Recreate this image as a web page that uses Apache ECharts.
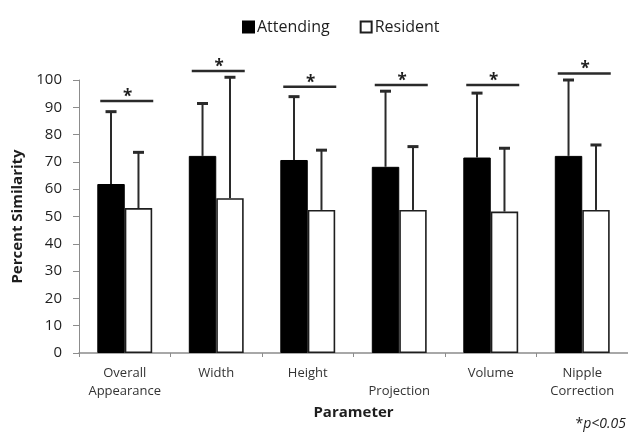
<!DOCTYPE html>
<html>
<head>
<meta charset="utf-8">
<script src="https://cdn.jsdelivr.net/npm/echarts@6/dist/echarts.min.js"></script>
<style>
  html, body { margin: 0; padding: 0; background: #fff; }
  #chart { width: 628px; height: 435px; }
</style>
</head>
<body>
<div id="chart"></div>
<script>
// Parameters compared between the two groups
const categories = ['Overall\nAppearance', 'Width', 'Height', '\nProjection', 'Volume', 'Nipple\nCorrection'];

// Mean percent similarity and standard deviation per group
const attendingMean = [61.9, 72.2, 70.7, 68.2, 71.6, 72.2];
const attendingSD   = [26.5, 19.2, 23.2, 27.7, 23.6, 27.8];
const residentMean  = [53.1, 56.7, 52.4, 52.4, 51.8, 52.4];
const residentSD    = [20.4, 44.3, 21.9, 23.2, 23.2, 23.8];

// Height of the significance bracket drawn over each pair
const sigLevel = [92.3, 103.3, 97.5, 98.2, 98.2, 102.4];

const yTicks = { min: 0, max: 100, interval: 10 };

const FONT = '"Open Sans", "DejaVu Sans", sans-serif';
const INK = '#1e1e1e';

// Upper error bar with a cap, centred on one bar of the pair
function errorBar(side) {
  return function (params, api) {
    const cat = api.value(0);
    const mean = api.value(1);
    const sd = api.value(2);
    const catW = api.size([1, 0])[0];
    const barW = catW * 0.3;
    const base = api.coord([cat, mean]);
    const top = api.coord([cat, mean + sd]);
    const x = base[0] + side * barW / 2;
    return {
      type: 'group',
      children: [
        { type: 'line', shape: { x1: x, y1: base[1], x2: x, y2: top[1] },
          style: { stroke: '#2a2a2a', lineWidth: 2 } },
        { type: 'line', shape: { x1: x - 5.5, y1: top[1], x2: x + 5.5, y2: top[1] },
          style: { stroke: '#2a2a2a', lineWidth: 3 } }
      ]
    };
  };
}

function sigBracket(params, api) {
  const p = api.coord([api.value(0), api.value(1)]);
  const cx = p[0] + 2;
  return {
    type: 'group',
    children: [
      { type: 'line', shape: { x1: cx - 26.5, y1: p[1], x2: cx + 26.5, y2: p[1] },
        style: { stroke: '#2a2a2a', lineWidth: 2.5 } },
      { type: 'text', x: cx + 1, y: p[1] - 4,
        style: { text: '*', fontFamily: FONT, fontWeight: 'bold', fontSize: 17,
                 fill: INK, align: 'center', verticalAlign: 'middle' } }
    ]
  };
}

const chart = echarts.init(document.getElementById('chart'), null, { renderer: 'canvas' });

chart.setOption({
  animation: false,
  backgroundColor: '#fff',
  textStyle: { fontFamily: FONT },
  legend: {
    data: ['Attending', 'Resident'],
    left: 237,
    top: 14,
    icon: 'rect',
    itemWidth: 11,
    itemHeight: 11,
    itemGap: 30,
    textStyle: { fontFamily: FONT, fontSize: 16, color: INK, padding: [0, 0, 0, -2] }
  },
  grid: { left: 79, right: -3, top: 80, bottom: 82, containLabel: false },
  xAxis: {
    type: 'category',
    data: categories,
    name: 'Parameter',
    nameLocation: 'middle',
    nameGap: 50,
    nameTextStyle: { fontFamily: FONT, fontSize: 15, fontWeight: 'bold', color: INK },
    axisLine: { lineStyle: { color: '#8c8c8c', width: 1.5 } },
    axisTick: { show: true, length: 4, lineStyle: { color: '#8c8c8c' } },
    axisLabel: { fontFamily: FONT, fontSize: 13, color: '#333', margin: 12, lineHeight: 17.5,
                 interval: 0 }
  },
  yAxis: {
    type: 'value',
    min: yTicks.min,
    max: yTicks.max,
    interval: yTicks.interval,
    name: 'Percent Similarity',
    nameLocation: 'middle',
    nameRotate: 90,
    nameGap: 52,
    nameTextStyle: { fontFamily: FONT, fontSize: 15, fontWeight: 'bold', color: INK },
    axisLine: { show: true, lineStyle: { color: '#8c8c8c', width: 1 } },
    axisTick: { show: true, length: 6, lineStyle: { color: '#8c8c8c' } },
    axisLabel: { fontFamily: FONT, fontSize: 15, color: INK, margin: 17 },
    splitLine: { show: false }
  },
  series: [
    {
      name: 'Attending',
      type: 'bar',
      data: attendingMean,
      barGap: '0%',
      barCategoryGap: '40%',
      itemStyle: { color: '#000', borderColor: '#000', borderWidth: 1 }
    },
    {
      name: 'Resident',
      type: 'bar',
      data: residentMean,
      itemStyle: { color: '#fff', borderColor: INK, borderWidth: 1.6 }
    },
    {
      type: 'custom',
      name: 'attendingError',
      renderItem: errorBar(-1),
      encode: { x: 0, y: 1 },
      data: attendingMean.map((m, i) => [i, m, attendingSD[i]]),
      z: 5
    },
    {
      type: 'custom',
      name: 'residentError',
      renderItem: errorBar(1),
      encode: { x: 0, y: 1 },
      data: residentMean.map((m, i) => [i, m, residentSD[i]]),
      z: 5
    },
    {
      type: 'custom',
      name: 'significance',
      renderItem: sigBracket,
      encode: { x: 0, y: 1 },
      data: sigLevel.map((v, i) => [i, v]),
      z: 5
    }
  ],
  graphic: [
    {
      type: 'text',
      right: 2,
      top: 417,
      style: {
        text: '{a|*}{b|p<0.05}',
        rich: {
          a: { fontFamily: FONT, fontSize: 14, fill: INK },
          b: { fontFamily: FONT, fontSize: 14, fontStyle: 'italic', fill: INK }
        }
      }
    }
  ]
});
</script>
</body>
</html>
